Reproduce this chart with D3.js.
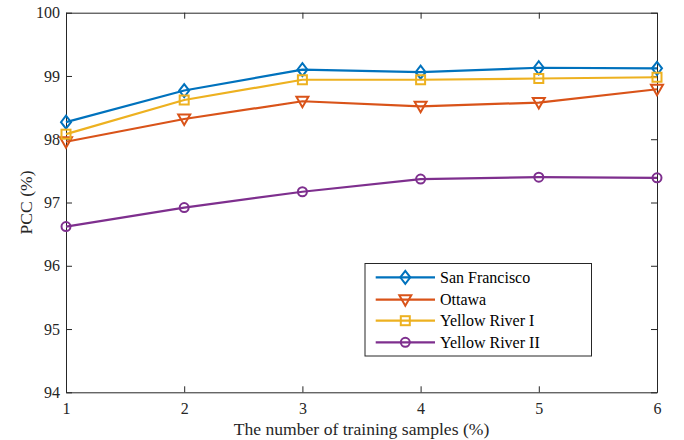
<!DOCTYPE html>
<html><head><meta charset="utf-8">
<script src="https://cdn.jsdelivr.net/npm/d3@7"></script>
<style>
body{margin:0;background:#fff;} svg{display:block;}
svg text{font-family:"Liberation Serif","DejaVu Serif",serif !important;}
</style>
</head><body>
<script>
const xValues = [1, 2, 3, 4, 5, 6];
const seriesNames = ["San Francisco", "Ottawa", "Yellow River I", "Yellow River II"];
const sanFrancisco = [98.27, 98.77, 99.10, 99.06, 99.13, 99.12];
const ottawa = [97.96, 98.32, 98.60, 98.52, 98.58, 98.79];
const yellowRiverI = [98.08, 98.62, 98.94, 98.94, 98.96, 98.98];
const yellowRiverII = [96.62, 96.92, 97.17, 97.37, 97.40, 97.39];
const xTicks = [1, 2, 3, 4, 5, 6];
const yTicks = [94, 95, 96, 97, 98, 99, 100];
const colors = ["#0072BD", "#D95319", "#EDB120", "#7E2F8E"];
const markers = ["diamond", "triangleDown", "square", "circle"];

const series = [sanFrancisco, ottawa, yellowRiverI, yellowRiverII];
const W = 684, H = 440;
const m = {left: 66, right: 27, top: 12.7, bottom: 47.7};

const svg = d3.select("body").append("svg").attr("width", W).attr("height", H);

const x = d3.scaleLinear().domain([1, 6]).range([m.left, W - m.right]);
const y = d3.scaleLinear().domain([94, 100]).range([H - m.bottom, m.top]);

const axisColor = "#262626";
const tickLen = 6;
function styleAxis(g) {
  g.attr("font-family", null);
  g.select(".domain").attr("stroke", axisColor).attr("stroke-width", 1);
  g.selectAll(".tick line").attr("stroke", axisColor).attr("stroke-width", 1);
  g.selectAll(".tick text").attr("fill", "#262626").style("font-size", "16px");
}
svg.append("g").attr("transform", `translate(0,${y(94)})`)
  .call(d3.axisBottom(x).tickValues(xTicks).tickFormat(d3.format("d")).tickSizeInner(-tickLen).tickSizeOuter(0).tickPadding(10))
  .call(styleAxis);
svg.append("g").attr("transform", `translate(0,${y(100)})`)
  .call(d3.axisTop(x).tickValues(xTicks).tickFormat("").tickSizeInner(-tickLen).tickSizeOuter(0))
  .call(styleAxis);
svg.append("g").attr("transform", `translate(${x(1)},0)`)
  .call(d3.axisLeft(y).tickValues(yTicks).tickFormat(d3.format("d")).tickSizeInner(-tickLen).tickSizeOuter(0).tickPadding(6))
  .call(styleAxis);
svg.append("g").attr("transform", `translate(${x(6)},0)`)
  .call(d3.axisRight(y).tickValues(yTicks).tickFormat("").tickSizeInner(-tickLen).tickSizeOuter(0))
  .call(styleAxis);

svg.append("text").attr("x", (x(1) + x(6)) / 2).attr("y", 434.5)
  .attr("text-anchor", "middle").style("font-size", "17.6px").attr("fill", "#262626")
  .text("The number of training samples (%)");
svg.append("text").attr("transform", `translate(31.5,${(y(94) + y(100)) / 2}) rotate(-90)`)
  .attr("text-anchor", "middle").style("font-size", "17.6px").attr("fill", "#262626")
  .text("PCC (%)");

function drawMarker(g, type, cx, cy, color) {
  if (type === "diamond") {
    g.append("path").attr("d", `M${cx},${cy-6.5}L${cx+5},${cy}L${cx},${cy+6.5}L${cx-5},${cy}Z`)
      .attr("fill", "none").attr("stroke", color).attr("stroke-width", 2);
  } else if (type === "triangleDown") {
    g.append("path").attr("d", `M${cx-6},${cy-4.5}L${cx+6},${cy-4.5}L${cx},${cy+6}Z`)
      .attr("fill", "none").attr("stroke", color).attr("stroke-width", 2);
  } else if (type === "square") {
    g.append("rect").attr("x", cx-4.5).attr("y", cy-4.5).attr("width", 9).attr("height", 9)
      .attr("fill", "none").attr("stroke", color).attr("stroke-width", 2);
  } else {
    g.append("circle").attr("cx", cx).attr("cy", cy).attr("r", 4.5)
      .attr("fill", "none").attr("stroke", color).attr("stroke-width", 2);
  }
}

const line = d3.line().x((d, i) => x(xValues[i])).y(d => y(d));
series.forEach((s, k) => {
  const g = svg.append("g");
  g.append("path").datum(s).attr("d", line).attr("fill", "none")
    .attr("stroke", colors[k]).attr("stroke-width", 2.2).attr("stroke-linejoin", "round");
  s.forEach((v, i) => drawMarker(g, markers[k], x(xValues[i]), y(v), colors[k]));
});

const lg = svg.append("g");
lg.append("rect").attr("x", 365).attr("y", 263.5).attr("width", 226.5).attr("height", 92.5)
  .attr("fill", "#fff").attr("stroke", "#262626").attr("stroke-width", 1);
const ly = [277.3, 299.7, 320.7, 342.3];
seriesNames.forEach((name, k) => {
  lg.append("line").attr("x1", 375.7).attr("x2", 435).attr("y1", ly[k]).attr("y2", ly[k])
    .attr("stroke", colors[k]).attr("stroke-width", 2.2);
  drawMarker(lg, markers[k], 405.3, ly[k], colors[k]);
  lg.append("text").attr("x", 440).attr("y", ly[k]).attr("dy", "0.35em")
    .style("font-size", "16px").attr("fill", "#000").text(name);
});
</script>
</body></html>
